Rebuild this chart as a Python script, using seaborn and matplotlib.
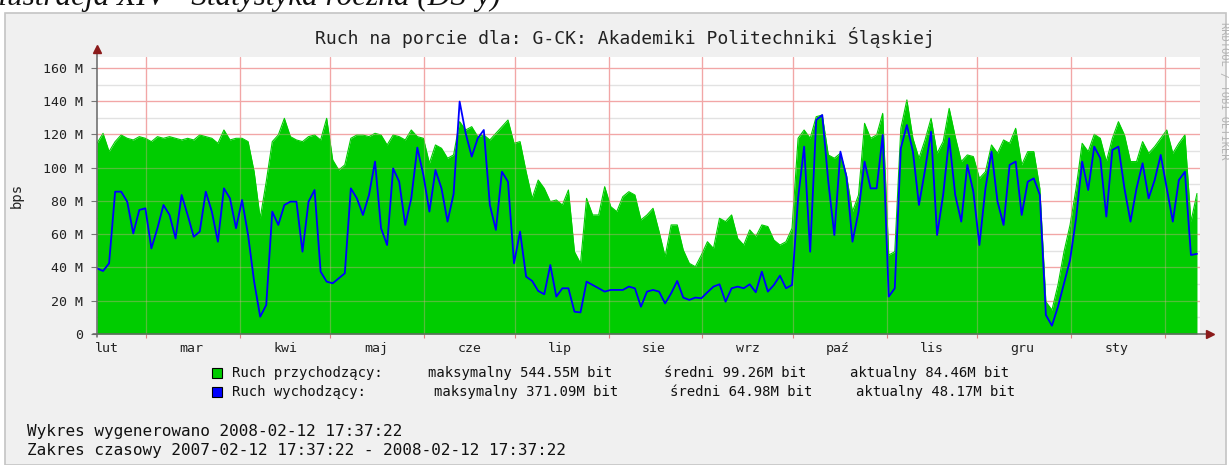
import pandas as pd
import seaborn as sns
import matplotlib.pyplot as plt
from matplotlib.patches import Rectangle

# values, in Mbit/s, one sample every 2 days
inbound = [114.7, 120.7, 109.7, 115.7, 119.7, 117.7, 116.7, 118.7, 117.7, 115.7,
           118.7, 117.7, 118.7, 117.7, 116.7, 117.7, 116.7, 119.7, 118.7, 117.7,
           114.7, 122.7, 116.7, 117.7, 117.7, 115.7, 97.6, 69.6, 91.6, 115.7,
           119.7, 129.7, 118.7, 116.7, 115.7, 118.7, 119.7, 116.7, 129.7, 104.7,
           98.6, 101.7, 117.7, 119.7, 119.7, 118.7,
           120.7, 119.7, 113.7, 119.7, 118.7, 116.7, 122.7, 118.7, 117.7, 102.7,
           113.7, 111.7, 105.7, 107.7, 127.7, 122.7, 124.7, 118.7, 119.7, 116.7,
           120.7, 124.7, 128.7, 114.7, 115.7, 97.6, 81.6, 92.6, 87.6, 79.6,
           80.6, 77.6, 86.6, 49.5, 42.5, 81.6, 71.6, 71.6, 88.6, 76.6,
           73.6, 82.6, 85.6, 83.6, 68.6, 71.6,
           75.6, 61.6, 46.5, 65.6, 65.6, 50.5, 42.5, 40.5, 47.5, 55.5,
           51.5, 69.6, 67.6, 71.6, 57.5, 53.5, 62.6, 58.5, 65.6, 64.6,
           56.5, 53.5, 55.5, 63.6, 117.7, 122.7, 117.7, 130.7, 131.7, 107.7,
           105.7, 108.7, 95.6, 73.6, 83.6, 126.7, 117.7, 119.7, 132.7, 47.5,
           49.5, 123.7, 140.8, 117.7, 105.7,
           116.7, 129.7, 108.7, 115.7, 135.7, 118.7, 103.7, 107.7, 106.7, 93.6,
           97.6, 113.7, 108.7, 116.7, 114.7, 123.7, 101.7, 109.7, 109.7, 87.6,
           19.4, 14.4, 29.5, 49.5, 65.6, 87.6, 114.7, 109.7, 120.1, 117.7,
           103.7, 117.7, 127.7, 119.7, 103.7, 103.7, 115.7, 108.7, 112.7, 117.7,
           122.7, 108.7, 114.7, 119.7, 67.6, 84.5]

outbound = [39.5, 37.9, 42.5, 85.6, 85.6, 79.6, 60.5, 74.6, 75.6, 51.5,
            63.6, 77.6, 71.6, 57.5, 83.6, 71.6, 58.5, 61.6, 85.6, 73.6,
            55.5, 87.6, 81.6, 63.6, 80.6, 59.5, 31.5, 10.4, 17.4, 73.6,
            65.6, 77.6, 79.6, 79.6, 49.5, 79.6, 86.6, 37.5, 31.5, 30.5,
            33.5, 36.5, 87.6, 81.6, 71.6, 83.6,
            103.7, 63.6, 53.5, 99.6, 91.6, 65.6, 81.6, 112.1, 95.6, 73.6,
            98.6, 87.6, 67.6, 84.2, 139.8, 120.7, 106.7, 117.7, 122.7, 77.6,
            62.6, 97.6, 91.6, 42.5, 61.6, 34.5, 31.9, 25.9, 23.9, 41.5,
            22.5, 27.5, 27.5, 13.4, 13.0, 31.5, 29.5, 27.5, 25.5, 26.5,
            26.5, 26.5, 28.5, 27.5, 16.4, 25.5,
            26.5, 25.5, 18.4, 24.5, 31.9, 21.9, 20.5, 21.9, 21.5, 25.1,
            28.5, 29.9, 19.4, 27.5, 28.5, 27.5, 29.9, 25.1, 37.5, 25.5,
            29.5, 35.1, 27.5, 29.5, 81.6, 112.7, 49.5, 128.7, 131.7, 91.6,
            59.5, 109.7, 94.6, 55.5, 73.6, 103.7, 87.6, 87.6, 119.7, 22.5,
            27.5, 111.7, 125.7, 109.7, 77.6,
            98.6, 121.7, 59.5, 83.6, 117.7, 83.6, 67.6, 101.7, 85.6, 53.5,
            87.6, 109.7, 79.6, 65.6, 101.7, 103.7, 71.6, 91.6, 93.6, 83.6,
            11.4, 5.0, 16.4, 30.5, 44.5, 69.6, 103.7, 86.6, 112.7, 105.7,
            70.6, 110.7, 112.7, 87.6, 67.6, 87.6, 102.7, 81.6, 92.6, 107.7,
            87.6, 67.6, 92.6, 97.6, 47.5, 48.2]

month_labels = ['lut', 'mar', 'kwi', 'maj', 'cze', 'lip', 'sie', 'wrz',
                'paź', 'lis', 'gru', 'sty']
y_ticks = [0, 20, 40, 60, 80, 100, 120, 140, 160]
y_tick_labels = ['0'] + ['%d M' % v for v in y_ticks[1:]]

legend_rows = [
    ('Ruch przychodzący:', 'maksymalny 544.55M bit', 'średni 99.26M bit', 'aktualny 84.46M bit'),
    ('Ruch wychodzący:', 'maksymalny 371.09M bit', 'średni 64.98M bit', 'aktualny 48.17M bit'),
]
footer = ['Wykres wygenerowano 2008-02-12 17:37:22',
          'Zakres czasowy 2007-02-12 17:37:22 - 2008-02-12 17:37:22']

start = pd.Timestamp('2007-02-12 17:37:22')
end = pd.Timestamp('2008-02-12 17:37:22')
df = pd.DataFrame({'time': pd.date_range(start, periods=len(inbound), freq='2D'),
                   'in': inbound, 'out': outbound})

GREEN = '#00CC00'
BLUE = '#0000FF'
BG = '#F0F0F0'

sns.set_style('white')
plt.rcParams['font.family'] = ['DejaVu Sans Mono']

W, H = 1229, 465
fig = plt.figure(figsize=(W / 100, H / 100), dpi=100, facecolor='white')


def fx(px):
    return px / W


def fy(py):
    return 1 - py / H


# canvas with a thin frame
fig.patches.append(Rectangle((fx(5), 0), fx(1226) - fx(5), fy(13), transform=fig.transFigure,
                             facecolor=BG, edgecolor='#C4C4C4', lw=1.2, zorder=-5))
fig.text(fx(-12), fy(5), 'Ilustracja XIV - Statystyka roczna (DS-y)', family='Liberation Serif',
         style='italic', fontsize=22.5, ha='left', va='baseline', color='#111111')

ax = fig.add_axes([fx(97), fy(334), fx(1200) - fx(97), fy(57) - fy(334)])
ax.set_facecolor('white')

ax.fill_between(df['time'], 0, df['in'], color=GREEN, lw=0, zorder=2)
sns.lineplot(data=df, x='time', y='in', color=GREEN, lw=0.8, ax=ax, zorder=2)
sns.lineplot(data=df, x='time', y='out', color=BLUE, lw=1.3, ax=ax, zorder=3)

ax.set_xlim(start, end)
ax.set_ylim(0, 166.6)

# grid: gray every 10M, red every 20M and at month starts
for v in range(10, 170, 20):
    ax.axhline(v, color='#E2E2E2', lw=1, zorder=1)
for v in y_ticks[1:]:
    ax.axhline(v, color='#F2A6A6', lw=0.9, zorder=1)
    ax.axhline(v, color='#F2A6A6', lw=0.9, alpha=0.35, zorder=2.5)
month_starts = pd.date_range('2007-03-01', '2008-02-01', freq='MS')
for m in month_starts:
    ax.axvline(m, color='#F2A6A6', lw=0.9, zorder=1)
    ax.axvline(m, color='#F2A6A6', lw=0.9, alpha=0.35, zorder=2.5)

ax.set_yticks(y_ticks)
ax.set_yticklabels(y_tick_labels)
ax.set_xticks(month_starts)
ax.set_xticklabels([])
mids = pd.date_range('2007-02-01', '2008-01-01', freq='MS') + pd.Timedelta(days=15)
ax.set_xticks(mids, minor=True)
ax.set_xticklabels(month_labels, minor=True)
ax.tick_params(axis='y', length=4, width=0.8, color='#777777', pad=6, labelsize=9.5,
               labelcolor='#222222', left=True)
ax.tick_params(axis='x', which='major', length=3, width=0.8, color='#E08080', bottom=True)
ax.tick_params(axis='x', which='minor', length=0, pad=6, labelsize=9.5, labelcolor='#222222')
for s in ax.spines.values():
    s.set_visible(False)
ax.set_xlabel('')
ax.set_ylabel('bps', fontsize=10, labelpad=14, color='#222222')

# axes with arrow heads
ax.plot([0, 0], [-0.012, 1.02], transform=ax.transAxes, color='#666666', lw=1.1, clip_on=False, zorder=4)
ax.plot([-0.004, 1.008], [0, 0], transform=ax.transAxes, color='#666666', lw=1.1, clip_on=False, zorder=4)
ax.plot([0], [1.03], marker='^', ms=6, color='#8B1A1A', transform=ax.transAxes, clip_on=False, zorder=5)
ax.plot([1.009], [0], marker='>', ms=6, color='#8B1A1A', transform=ax.transAxes, clip_on=False, zorder=5)

fig.text(fx(625), fy(37), 'Ruch na porcie dla: G-CK: Akademiki Politechniki Śląskiej',
         ha='center', va='center', fontsize=13, color='#222222')
fig.text(fx(1224), fy(22), 'RRDTOOL / TOBI OETIKER', rotation=270, ha='center', va='top',
         fontsize=7.5, color='#B4B4B4')

# legend
for i, (row, col) in enumerate(zip(legend_rows, [GREEN, BLUE])):
    y = 373 + 19 * i
    fig.patches.append(Rectangle((fx(212), fy(y + 5)), fx(10), fy(0) - fy(10),
                                 transform=fig.transFigure, facecolor=col, edgecolor='black', lw=0.8))
    xs = [232, 428 + 6 * i, 664 + 6 * i, 850 + 6 * i]
    for x, t in zip(xs, row):
        fig.text(fx(x), fy(y), t, ha='left', va='center', fontsize=10, color='#111111')

for i, t in enumerate(footer):
    fig.text(fx(27), fy(431 + 19 * i), t, ha='left', va='center', fontsize=11.5, color='#111111')

fig.savefig('out.png', dpi=100, facecolor=fig.get_facecolor())
